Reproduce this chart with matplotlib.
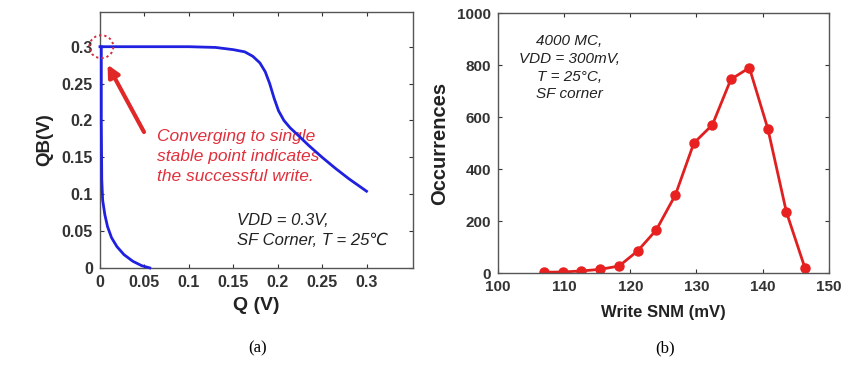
"""Write butterfly curve (a) and write-SNM Monte Carlo histogram (b)."""
import matplotlib
matplotlib.use("Agg")
import matplotlib.pyplot as plt
from matplotlib.patches import Ellipse

# (a) voltage transfer curves during write
vtc1_q = [0.0, 0.05, 0.10, 0.13, 0.15, 0.163, 0.172, 0.180, 0.186, 0.191, 0.196, 0.201,
          0.207, 0.214, 0.222, 0.235, 0.250, 0.265, 0.280, 0.300]
vtc1_qb = [0.300, 0.300, 0.300, 0.299, 0.296, 0.293, 0.287, 0.278, 0.266, 0.250, 0.230, 0.213,
           0.200, 0.190, 0.181, 0.166, 0.150, 0.135, 0.121, 0.104]
vtc2_q = [0.0015, 0.0015, 0.002, 0.003, 0.0055, 0.0085, 0.013, 0.019, 0.027, 0.037, 0.047, 0.056]
vtc2_qb = [0.300, 0.200, 0.120, 0.092, 0.072, 0.056, 0.041, 0.029, 0.018, 0.009, 0.003, 0.0]

# (b) Monte Carlo write SNM distribution
snm_mv = [107.0, 109.8, 112.6, 115.4, 118.3, 121.1, 123.9, 126.8, 129.6, 132.4,
          135.2, 138.0, 140.8, 143.6, 146.4]
counts = [3, 4, 8, 14, 27, 85, 165, 300, 500, 570, 745, 790, 555, 235, 20]

qticks = [0, 0.05, 0.1, 0.15, 0.2, 0.25, 0.3]
qtick_labels = ["0", "0.05", "0.1", "0.15", "0.2", "0.25", "0.3"]

plt.rcParams["font.family"] = ["Liberation Sans", "DejaVu Sans"]


def style_axes(ax, size):
    ax.tick_params(direction="in", top=True, right=True, length=3, width=0.8,
                   labelsize=size, colors="#333333", pad=5)
    for lab in ax.get_xticklabels() + ax.get_yticklabels():
        lab.set_fontweight("bold")
    for sp in ax.spines.values():
        sp.set_color("#555555")
        sp.set_linewidth(1.0)


fig = plt.figure(figsize=(8.43, 3.65), dpi=100)

# ---- panel (a)
ax1 = fig.add_axes([0.1186, 0.266, 0.371, 0.701])
ax1.plot(vtc1_q, vtc1_qb, color="#2020e0", lw=2, clip_on=False, zorder=5)
ax1.plot(vtc2_q, vtc2_qb, color="#2020e0", lw=2, clip_on=False, zorder=5)
ax1.set_xlim(0, 0.352)
ax1.set_ylim(0, 0.347)
ax1.set_xticks(qticks)
ax1.set_xticklabels(qtick_labels)
ax1.set_yticks(qticks)
ax1.set_yticklabels(qtick_labels)
ax1.set_xlabel("Q (V)", fontsize=14, fontweight="bold", color="#222222", labelpad=5)
ax1.set_ylabel("QB(V)", fontsize=13.5, fontweight="bold", color="#222222", labelpad=6)
style_axes(ax1, 11.5)

ax1.add_patch(Ellipse((0.0015, 0.3), 0.027, 0.031, fill=False, ec="#d03040",
                      ls=(0, (1.2, 1.5)), lw=1.4, clip_on=False, zorder=6))
ax1.annotate("", xy=(0.007, 0.279), xytext=(0.051, 0.181),
             arrowprops=dict(arrowstyle="-|>,head_length=0.7,head_width=0.35",
                             color="#e02828", lw=3))
ax1.text(0.064, 0.151, "Converging to single\nstable point indicates\nthe successful write.",
         color="#e0303c", fontsize=12.5, style="italic", va="center", ha="left",
         linespacing=1.45)
ax1.text(0.154, 0.051, "VDD = 0.3V,\nSF Corner, T = 25\u2103", color="#222222",
         fontsize=12, style="italic", va="center", ha="left", linespacing=1.4)

# ---- panel (b)
ax2 = fig.add_axes([0.591, 0.252, 0.392, 0.712])
ax2.plot(snm_mv, counts, color="#e02020", lw=2, marker="o", ms=6.5,
         markerfacecolor="#e82020", markeredgecolor="#e82020")
ax2.set_xlim(100, 150)
ax2.set_ylim(0, 1000)
ax2.set_xticks([100, 110, 120, 130, 140, 150])
ax2.set_yticks([0, 200, 400, 600, 800, 1000])
ax2.set_xlabel("Write SNM (mV)", fontsize=12, fontweight="bold", color="#222222", labelpad=8)
ax2.set_ylabel("Occurrences", fontsize=14.5, fontweight="bold", color="#222222", labelpad=6)
style_axes(ax2, 11)
ax2.text(110.8, 790, "4000 MC,\nVDD = 300mV,\nT = 25\u00b0C,\nSF corner", color="#222222",
         fontsize=11, style="italic", ha="center", va="center", linespacing=1.35)

# captions
fig.text(0.306, 0.035, "(a)", fontsize=12, family="Liberation Serif", ha="center")
fig.text(0.789, 0.035, "(b)", fontsize=12, family="Liberation Serif", ha="center")

fig.savefig("out.png", dpi=100, facecolor="white")
